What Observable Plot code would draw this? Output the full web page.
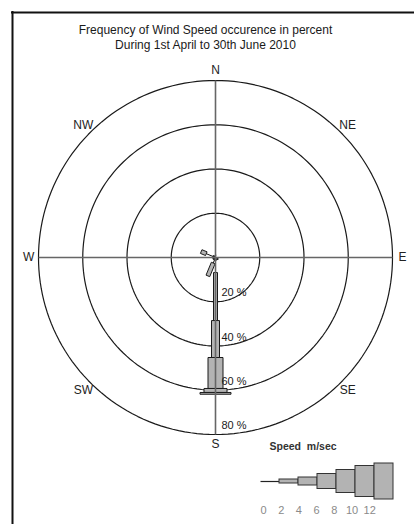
<!DOCTYPE html>
<html>
<head>
<meta charset="utf-8">
<script src="https://cdn.jsdelivr.net/npm/d3@7"></script>
<script src="https://cdn.jsdelivr.net/npm/@observablehq/plot@0.6"></script>
<style>
  html, body { margin: 0; padding: 0; background: #fff; overflow: hidden; }
  #chart svg { display: block; }
</style>
</head>
<body>
<div id="chart"></div>
<script>
// ---- data ----
const titleLines = ["Frequency of Wind Speed occurence in percent", "During 1st April to 30th June 2010"];
const directions = ["N","NNE","NE","ENE","E","ESE","SE","SSE","S","SSW","SW","WSW","W","WNW","NW","NNW"];
const speedClasses = ["0-2","2-4","4-6","6-8","8-10","10-12",">12"];
const speedBreaks = [0, 2, 4, 6, 8, 10, 12];
// frequency (%) per direction for each speed class
const freq0_2   = [0.4,0,0,0,0.3,0,0.3,0.8,6.8,2.7,0.8,0,0.8,4.5,0.6,0.4];
const freq2_4   = [0,0,0,0,0,0,0,0.4,21.7,6.3,0.3,0,0.2,2.5,0.2,0];
const freq4_6   = [0,0,0,0,0,0,0,0,16.7,0,0,0,0,0,0,0];
const freq6_8   = [0,0,0,0,0,0,0,0,14.0,0,0,0,0,0,0,0];
const freq8_10  = [0,0,0,0,0,0,0,0,1.8,0,0,0,0,0,0,0];
const freq10_12 = [0,0,0,0,0,0,0,0,0.8,0,0,0,0,0,0,0];
const freq12p   = [0,0,0,0,0,0,0,0,0,0,0,0,0,0,0,0];
const ringPcts = [20, 40, 60, 80];
const compassLabels = ["N","NE","E","SE","S","SW","W","NW"];
const legendTitle = "Speed  m/sec";

// ---- layout ----
const W = 414, H = 524;
const cx = 215, cy = 257;           // centre in pixels
const k = 177 / 80;                 // pixels per percent
const classWidthPx = [1, 4, 8, 15, 23, 31, 36];
const fillGray = "#b3b3b3";

const freqs = [freq0_2, freq2_4, freq4_6, freq6_8, freq8_10, freq10_12, freq12p];

// petal geometry
const petalLines = [];
const petalPolys = [];
directions.forEach((d, i) => {
  const th = i * 22.5 * Math.PI / 180;
  const ux = Math.sin(th), uy = Math.cos(th);
  const px = Math.cos(th), py = -Math.sin(th);
  let cum = 0;
  freqs.forEach((arr, c) => {
    const v = arr[i];
    if (!(v > 0)) return;
    const r0 = cum, r1 = cum + v;
    cum = r1;
    if (c === 0) {
      petalLines.push({x1: r0 * ux, y1: r0 * uy, x2: r1 * ux, y2: r1 * uy});
    } else {
      const h = classWidthPx[c] / 2 / k;
      const id = d + c;
      const pts = [
        [r0 * ux + h * px, r0 * uy + h * py],
        [r1 * ux + h * px, r1 * uy + h * py],
        [r1 * ux - h * px, r1 * uy - h * py],
        [r0 * ux - h * px, r0 * uy - h * py],
        [r0 * ux + h * px, r0 * uy + h * py]
      ];
      pts.forEach(([x, y]) => petalPolys.push({id, x, y}));
    }
  });
});

// rings
const ringPts = [];
ringPcts.forEach(r => {
  for (let a = 0; a <= 360; a += 2) {
    const t = a * Math.PI / 180;
    ringPts.push({r, x: r * Math.sin(t), y: r * Math.cos(t)});
  }
});
const rMax = d3.max(ringPcts);
const labelR = 84.5;
const compass = compassLabels.map((l, i) => {
  const t = i * 45 * Math.PI / 180;
  return {l, x: labelR * Math.sin(t), y: labelR * Math.cos(t)};
});

// pixel layout -> data units
const toX = p => (p - cx) / k;
const toY = p => (cy - p) / k;
const titleRows = titleLines.map((t, i) => ({t, x: toX(205), y: toY(30 + i * 15)}));
const legX0 = 260, legStep = 19, legY = 481;
const legendLine = [{x1: toX(legX0), x2: toX(legX0 + legStep), y: toY(legY)}];
const legendRects = speedClasses.slice(1).map((s, j) => {
  const c = j + 1;
  const h = classWidthPx[c] / 2;
  return {x1: toX(legX0 + c * legStep), x2: toX(legX0 + (c + 1) * legStep),
          y1: toY(legY - h), y2: toY(legY + h)};
});
const legendLabels = speedBreaks.map((b, i) => ({t: String(b), x: toX(263 + i * 17.7), y: toY(510)}));

const font = "'Liberation Sans', Arial, sans-serif";

const chart = Plot.plot({
  width: W, height: H, margin: 0,
  style: {fontFamily: font, background: "#fff", overflow: "hidden"},
  x: {domain: [toX(0), toX(W)], range: [0, W], axis: null},
  y: {domain: [toY(H), toY(0)], range: [H, 0], axis: null},
  marks: [
    Plot.ruleX([toX(12)], {y1: toY(11), y2: toY(H), stroke: "#111", strokeWidth: 2}),
    Plot.ruleY([toY(12)], {x1: toX(11), x2: toX(W), stroke: "#111", strokeWidth: 2}),
    Plot.text(titleRows, {x: "x", y: "y", text: "t", fontSize: 12, fill: "#1a1a1a", lineAnchor: "middle"}),
    Plot.line(ringPts, {x: "x", y: "y", z: "r", stroke: "#1a1a1a", strokeWidth: 1.2}),
    Plot.link(petalLines, {x1: "x1", y1: "y1", x2: "x2", y2: "y2", stroke: "#111", strokeWidth: 1}),
    Plot.line(petalPolys, {x: "x", y: "y", z: "id", fill: fillGray, stroke: "#1a1a1a", strokeWidth: 1, strokeLinejoin: "miter", strokeLinecap: "butt", curve: "linear"}),
    Plot.link([{x1: -rMax, y1: 0, x2: rMax, y2: 0}, {x1: 0, y1: -rMax, x2: 0, y2: rMax}],
      {x1: "x1", y1: "y1", x2: "x2", y2: "y2", stroke: "#666", strokeWidth: 1.6}),
    Plot.text(compass, {x: "x", y: "y", text: "l", fontSize: 12, fill: "#222", textAnchor: "middle", lineAnchor: "middle"}),
    Plot.text(ringPcts, {x: 0, y: d => -d, text: d => `${d} %`, dx: 6, dy: -9, textAnchor: "start", lineAnchor: "middle", fontSize: 11, fill: "#1a1a1a"}),
    Plot.text([legendTitle], {x: toX(269), y: toY(446), text: d => d, textAnchor: "start", lineAnchor: "middle", fontSize: 10.5, fontWeight: "bold", fill: "#333"}),
    Plot.link(legendLine, {x1: "x1", x2: "x2", y1: "y", y2: "y", stroke: "#222", strokeWidth: 1.2}),
    Plot.rect(legendRects, {x1: "x1", x2: "x2", y1: "y1", y2: "y2", fill: fillGray, stroke: "#333", strokeWidth: 1}),
    Plot.text(legendLabels, {x: "x", y: "y", text: "t", fontSize: 11, fill: "#8a8a8a", textAnchor: "middle", lineAnchor: "middle"})
  ]
});
document.getElementById("chart").appendChild(chart);
</script>
</body>
</html>
